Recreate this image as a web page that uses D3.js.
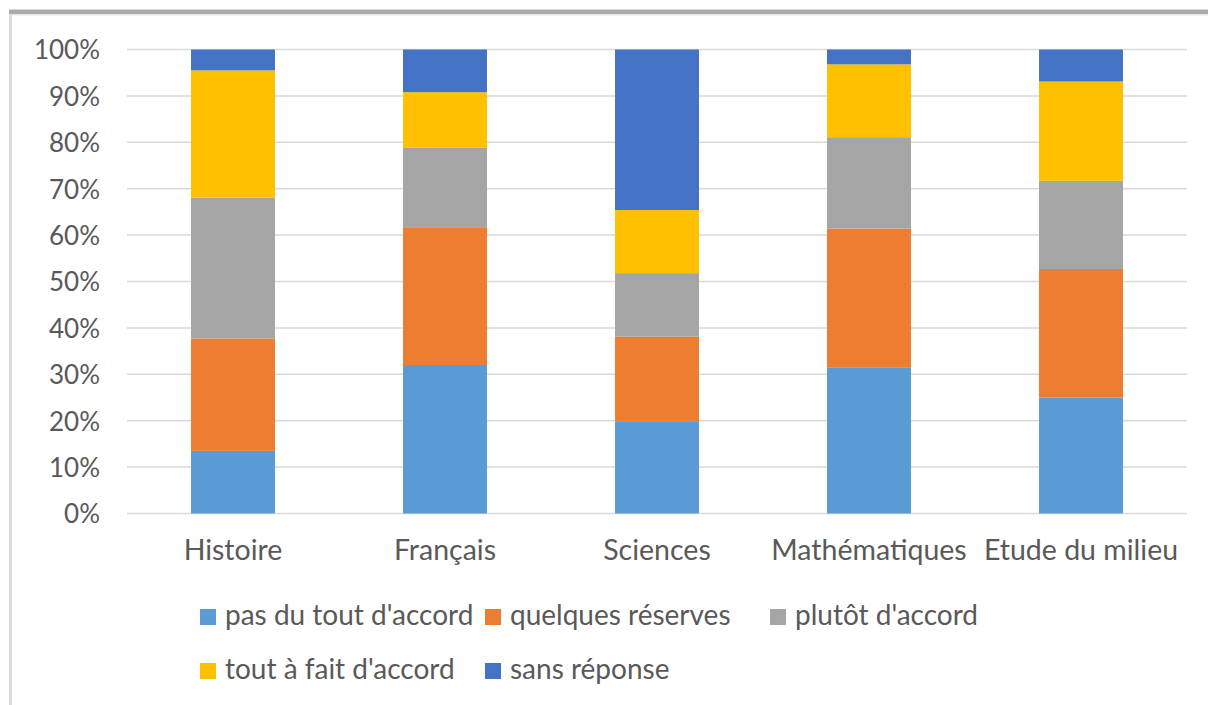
<!DOCTYPE html>
<html>
<head>
<meta charset="utf-8">
<script src="https://cdn.jsdelivr.net/npm/d3@7"></script>
<style>
  html, body { margin: 0; padding: 0; background: #fff; }
  svg { display: block; }
  text { font-family: "Lato", "Open Sans", sans-serif; fill: #595959; }
</style>
</head>
<body>
<svg id="chart" width="1208" height="705"></svg>
<script>
const categories = ["Histoire", "Français", "Sciences", "Mathématiques", "Etude du milieu"];
const seriesNames = ["pas du tout d'accord", "quelques réserves", "plutôt d'accord", "tout à fait d'accord", "sans réponse"];
const pasDuTout   = [13.5, 32.0, 19.9, 31.4, 25.0];
const quelques    = [24.2, 29.7, 18.2, 30.0, 27.7];
const plutot      = [30.4, 17.1, 13.7, 19.7, 19.0];
const toutAFait   = [27.4, 12.0, 13.6, 15.7, 21.4];
const sansReponse = [4.5, 9.2, 34.6, 3.2, 6.9];
const yTicks = [0, 10, 20, 30, 40, 50, 60, 70, 80, 90, 100];
const colors = ["#5B9BD5", "#ED7D31", "#A5A5A5", "#FFC000", "#4472C4"];

const seriesValues = [pasDuTout, quelques, plutot, toutAFait, sansReponse];
const keys = seriesNames;
const rows = categories.map((c, i) => {
  const r = { cat: c };
  keys.forEach((k, j) => r[k] = seriesValues[j][i]);
  return r;
});
const stacked = d3.stack().keys(keys).offset(d3.stackOffsetExpand)(rows);

const svg = d3.select("#chart");

// frame
svg.append("rect").attr("x", 9).attr("y", 9.5).attr("width", 1199).attr("height", 4.5).attr("fill", "#ababab");
svg.append("rect").attr("x", 9).attr("y", 14).attr("width", 1199).attr("height", 1.5).attr("fill", "#e6e6e6");
svg.append("rect").attr("x", 9).attr("y", 14).attr("width", 3).attr("height", 691).attr("fill", "#dcdcdc");

const x = d3.scaleBand().domain(categories).range([127, 1187]).paddingInner(0.604).paddingOuter(0.302);
const y = d3.scaleLinear().domain([0, 1]).range([513.5, 49.5]);

// gridlines
svg.append("g").selectAll("line").data(yTicks).join("line")
  .attr("x1", 127).attr("x2", 1187)
  .attr("y1", d => y(d / 100)).attr("y2", d => y(d / 100))
  .attr("stroke", "#d9d9d9").attr("stroke-width", 1.5);

// bars
svg.append("g").selectAll("g").data(stacked).join("g")
  .attr("fill", (d, i) => colors[i])
  .selectAll("rect").data(d => d).join("rect")
  .attr("x", d => x(d.data.cat))
  .attr("width", x.bandwidth())
  .attr("y", d => y(d[1]))
  .attr("height", d => y(d[0]) - y(d[1]));

// y axis labels
const yAxis = d3.axisLeft(y).tickValues(yTicks.map(t => t / 100)).tickFormat(d3.format(".0%")).tickSize(0).tickPadding(0);
const gy = svg.append("g").attr("transform", "translate(100,0)").call(yAxis);
gy.select(".domain").remove();
gy.selectAll("text").attr("font-size", 26).attr("font-family", "Lato").attr("fill", "#595959").attr("dy", "0.36em");

// x axis labels
const xAxis = d3.axisBottom(x).tickSize(0).tickPadding(0);
const gx = svg.append("g").attr("transform", "translate(0,540)").call(xAxis);
gx.select(".domain").remove();
gx.selectAll("text").attr("font-size", 28.5).attr("font-family", "Lato").attr("fill", "#595959").attr("dy", "0.71em");

// legend
const legendCols = 3;
const legend = svg.append("g");
const items = legend.selectAll("g").data(seriesNames).join("g")
  .attr("transform", (d, i) => `translate(${200 + (i % legendCols) * 285},${i < legendCols ? 609 : 663})`);
items.append("rect").attr("width", 16).attr("height", 16).attr("fill", (d, i) => colors[i]);
items.append("text").attr("x", 25).attr("y", 15.5).attr("font-size", 28).text(d => d);
</script>
</body>
</html>
